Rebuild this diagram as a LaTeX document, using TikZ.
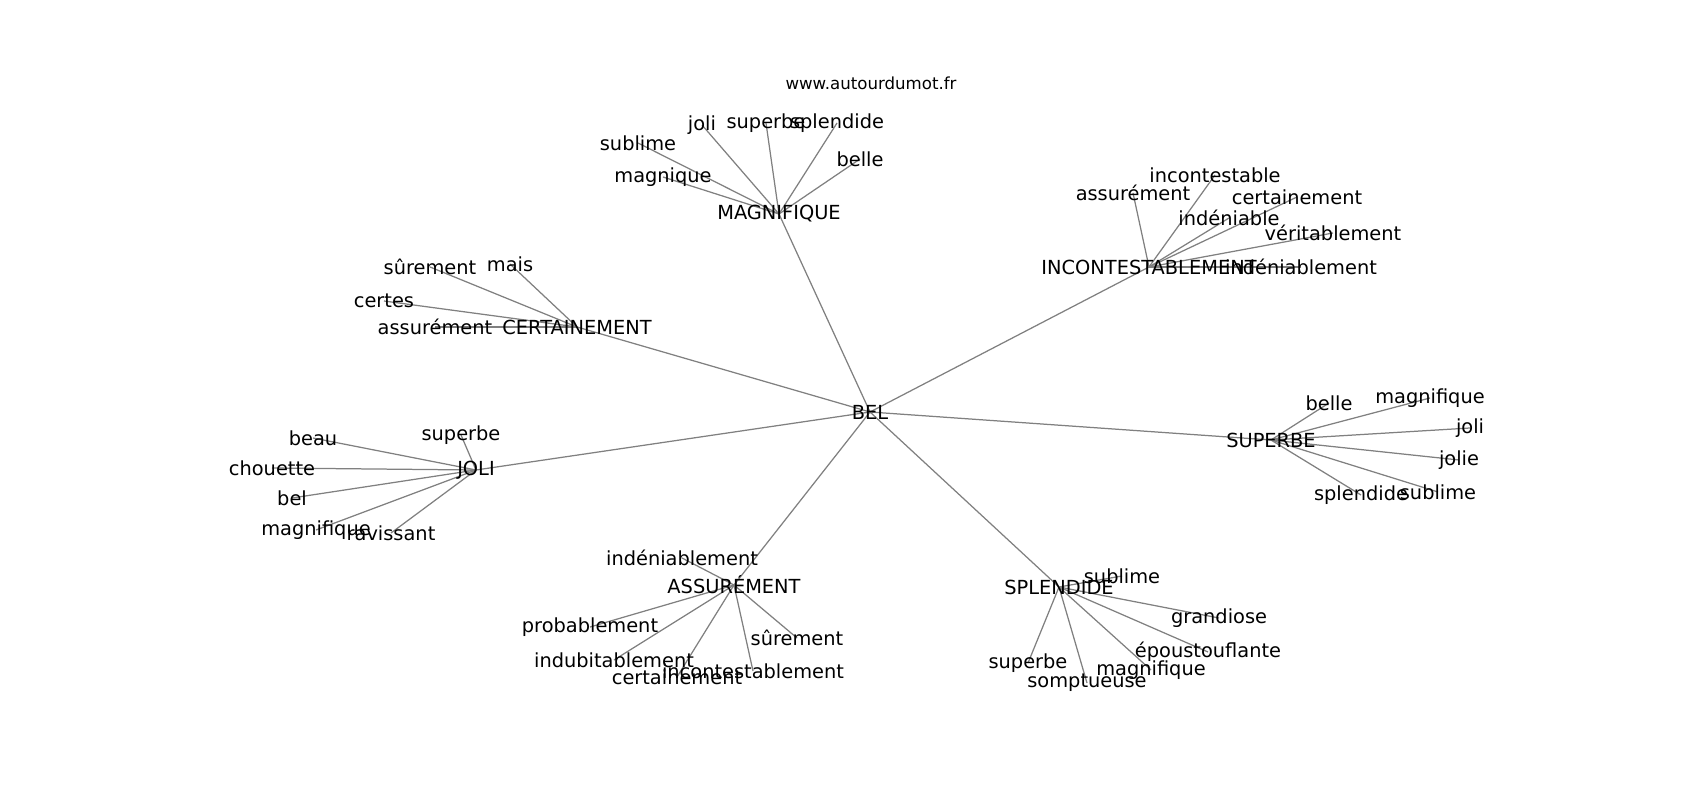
\documentclass[tikz,border=0pt]{standalone}
\usepackage{fontspec}
\setmainfont{DejaVu Sans}
\usetikzlibrary{backgrounds}
\tikzset{
    word/.style={font=\fontsize{14}{16}\selectfont, inner sep=0pt},
    link/.style={draw=gray, line width=0.9pt}
}
\begin{document}
\begin{tikzpicture}[x=0.01in, y=-0.01in]
            \useasboundingbox (0,0) rectangle (1700,800);

            \node[font=\fontsize{12}{14}\selectfont, inner sep=0pt] (site) at (871,83) {www.autourdumot.fr};

            \node[word] (bel) at (870,412) {BEL};
            \node[word] (mag) at (779,214) {MAGNIFIQUE};
            \node[word] (inc) at (1149,267) {INCONTESTABLEMENT};
            \node[word] (cer) at (577,327) {CERTAINEMENT};
            \node[word] (jol) at (476,470) {JOLI};
            \node[word] (ass) at (734,585) {ASSURÉMENT};
            \node[word] (spl) at (1059,587) {SPLENDIDE};
            \node[word] (sup) at (1271,440) {SUPERBE};

            \node[word] (mag1) at (638,143) {sublime};
            \node[word] (mag2) at (702,125) {joli};
            \node[word] (mag3) at (766,123) {superbe};
            \node[word] (mag4) at (837,123) {splendide};
            \node[word] (mag5) at (663,177) {magnique};
            \node[word] (mag6) at (860,159) {belle};

            \node[word] (inc1) at (1133,193) {assurément};
            \node[word] (inc2) at (1215,175) {incontestable};
            \node[word] (inc3) at (1297,197) {certainement};
            \node[word] (inc4) at (1229,218) {indéniable};
            \node[word] (inc5) at (1333,233) {véritablement};
            \node[word] (inc6) at (1301,267) {indéniablement};

            \node[word] (cer1) at (430,267) {sûrement};
            \node[word] (cer2) at (510,264) {mais};
            \node[word] (cer3) at (384,301) {certes};
            \node[word] (cer4) at (435,327) {assurément};

            \node[word] (jol1) at (313,438) {beau};
            \node[word] (jol2) at (461,435) {superbe};
            \node[word] (jol3) at (272,468) {chouette};
            \node[word] (jol4) at (292,498) {bel};
            \node[word] (jol5) at (316,530) {magnifique};
            \node[word] (jol6) at (391,533) {ravissant};

            \node[word] (ass1) at (682,558) {indéniablement};
            \node[word] (ass2) at (590,627) {probablement};
            \node[word] (ass3) at (614,660) {indubitablement};
            \node[word] (ass4) at (677,677) {certainement};
            \node[word] (ass5) at (753,671) {incontestablement};
            \node[word] (ass6) at (797,638) {sûrement};

            \node[word] (spl1) at (1122,576) {sublime};
            \node[word] (spl2) at (1219,618) {grandiose};
            \node[word] (spl3) at (1208,652) {époustouflante};
            \node[word] (spl4) at (1151,670) {magnifique};
            \node[word] (spl5) at (1028,663) {superbe};
            \node[word] (spl6) at (1087,683) {somptueuse};

            \node[word] (sup1) at (1329,403) {belle};
            \node[word] (sup2) at (1430,398) {magnifique};
            \node[word] (sup3) at (1470,428) {joli};
            \node[word] (sup4) at (1459,460) {jolie};
            \node[word] (sup5) at (1438,492) {sublime};
            \node[word] (sup6) at (1361,495) {splendide};

            \begin{scope}[on background layer]
                \foreach \h in {mag,inc,cer,jol,ass,spl,sup}
                    \draw[link] (bel.center) -- (\h.center);
                \foreach \h/\n in {mag/6,inc/6,cer/4,jol/6,ass/6,spl/6,sup/6}
                    \foreach \i in {1,...,\n}
                        \draw[link] (\h.center) -- (\h\i.center);
            \end{scope}
\end{tikzpicture}
\end{document}
